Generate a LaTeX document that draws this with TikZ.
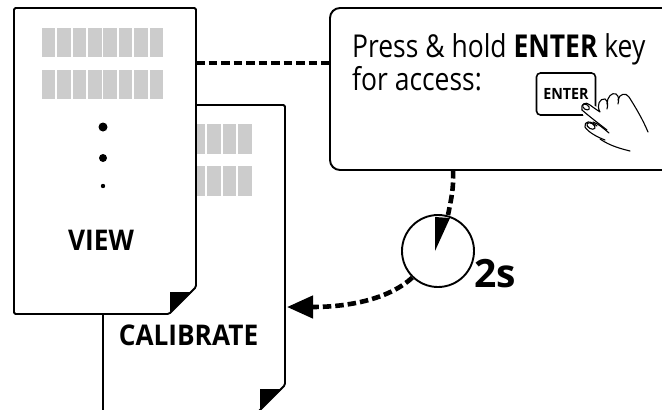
\documentclass[tikz,border=0pt]{standalone}
\usepackage{fontspec}
\setmainfont{Open Sans}
\newfontfamily\boxfont{Open Sans}[FakeStretch=0.84]
\newfontfamily\lblfont{Open Sans}[FakeStretch=0.92]
\usetikzlibrary{arrows.meta,calc}
\definecolor{blockgray}{HTML}{CCCCCC}
\begin{document}
\begin{tikzpicture}[x=1pt,y=-1pt,
  pageshape/.style={draw, line width=1.9pt, fill=white, rounded corners=1.5pt},
  blk/.style={fill=blockgray},
  dashline/.style={line width=4.6pt, dash pattern=on 8.5pt off 4pt},
  lbl/.style={font=\lblfont\bfseries\fontsize{28.5}{30}\selectfont, inner sep=0pt},
  handline/.style={line width=1.1pt, line cap=round, line join=round}]
\useasboundingbox (0,0) rectangle (662,410);
\clip (0,0) rectangle (662,410);

% CALIBRATE page (behind)
\draw[pageshape] (103,440) -- (103,105) -- (285,105) -- (285,385) -- (257,413) -- cycle;
\foreach \i in {0,...,7} {
  \fill[blk] (130.1+15.44*\i,124) rectangle ++(13.5,30);
  \fill[blk] (130.1+15.44*\i,166) rectangle ++(13.5,29.7);
}
\fill (260,389) -- (282,389) -- (260,409) -- cycle;
\node[lbl] (cal) at (188.5,335) {CALIBRATE};

% VIEW page (front)
\draw[pageshape] (14,8) -- (196,8) -- (196,287) -- (169,314) -- (14,314) -- cycle;
\foreach \i in {0,...,7} {
  \fill[blk] (41.7+15.44*\i,28.3) rectangle ++(13.5,29);
  \fill[blk] (41.7+15.44*\i,70) rectangle ++(13.5,29.3);
}
\fill (170,292) -- (192,292) -- (170,312) -- cycle;
\fill (103,127) circle (4.5);
\fill (103,158) circle (4);
\fill (103,186) circle (2.2);
\node[lbl] (view) at (101,240) {VIEW};

% message box
\node[draw, line width=1.9pt, rounded corners=10pt, minimum width=380pt,
      minimum height=162pt, inner sep=0pt] (msg) at (520,89) {};
\node[anchor=base west, inner sep=0pt, font=\boxfont\fontsize{31.5}{34}\selectfont]
  (t1) at (352,57) {Press \& hold \textbf{ENTER} key};
\node[anchor=base west, inner sep=0pt, font=\boxfont\fontsize{31.5}{34}\selectfont]
  (t2) at (352,90) {for access:};

% key and hand
\node[draw, line width=1.6pt, rounded corners=4pt, minimum width=59pt,
      minimum height=42pt, inner sep=0pt, fill=white,
      font=\lblfont\bfseries\fontsize{15.5}{15}\selectfont] (key) at (566,94) {ENTER};
\fill[white] (581,101) -- (600,108) -- (605,135) -- (585,126) -- cycle;
\draw[handline] (586,107) ellipse [x radius=3.8, y radius=2.4, rotate=-35];
\draw[handline] (582,110) .. controls (580,104) and (586,101) .. (590,105)
  .. controls (594,108) and (597,110) .. (600,112)
  .. controls (596,105) and (600,98) .. (605,99)
  .. controls (608,101) and (608,105) .. (607,109);
\draw[handline] (607,104) .. controls (607,97) and (612,92) .. (616,94)
  .. controls (619,96) and (619,100) .. (618,104);
\draw[handline] (618,100) .. controls (619,94) and (626,92) .. (629,97)
  .. controls (636,108) and (643,120) .. (648,132);
\draw[handline] (582,110) .. controls (590,117) and (598,123) .. (607,130);
\draw[handline] (591,126) ellipse [x radius=4.5, y radius=2.7, rotate=-30];
\draw[handline] (597,126) .. controls (590,120) and (584,121) .. (585,127)
  .. controls (588,132) and (597,137) .. (605,140);
\draw[handline] (593,122) .. controls (599,124) and (604,129) .. (609,133);
\draw[handline] (600,139) .. controls (610,146) and (622,149) .. (630,151);

% timer
\node[draw, circle, line width=1.9pt, minimum size=72pt, inner sep=0pt] (clock) at (438,251) {};
\fill (clock.center) ++(-3,0) -- (435,217) -- (450,218) -- cycle;
\coordinate (wtop) at (448,215);
\node[anchor=base west, inner sep=0pt, font=\bfseries\fontsize{39}{40}\selectfont] (two) at (474,287) {2s};

% connectors
\coordinate (vr) at (196,63);
\draw[dashline] (vr) -- (vr -| msg.west);
\coordinate (mb) at (453,170);
\draw[dashline] (mb) .. controls (454,188) and (451,200) .. (wtop);
\coordinate (calR) at (287,307);
\draw[dashline, -{Triangle[length=26pt,width=22pt]}] (clock.226) .. controls (390,298) and (352,307) .. (calR);
\end{tikzpicture}
\end{document}
